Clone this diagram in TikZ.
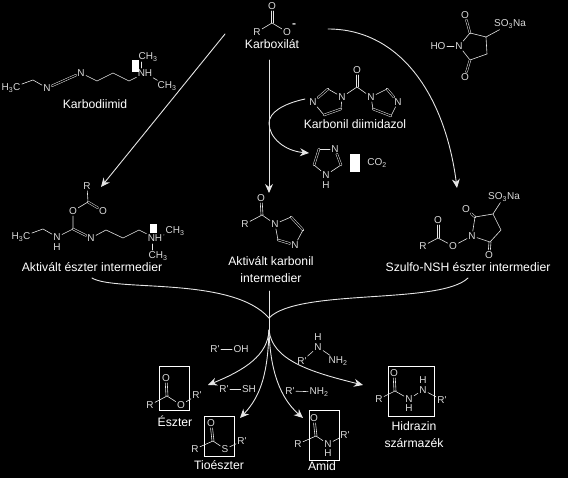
\documentclass[tikz,border=0pt]{standalone}
\usepackage{fontspec}
\setmainfont{Liberation Sans}
\usetikzlibrary{arrows.meta}
\newcommand{\Rp}{R\textquotesingle}
\tikzset{
  atom/.style={text=white!85!black,inner sep=1.2pt,font=\fontsize{10}{10}\selectfont},
  lbl/.style={text=white,inner sep=0pt,font=\fontsize{12.2}{12.2}\selectfont},
  bond/.style={draw=white!90!black,line width=0.6pt},
  dbl/.style={bond,double=black,double distance=1.3pt,line width=0.5pt},
  dblv/.style={draw=none,postaction={draw=white!90!black,line width=0.6pt,transform canvas={xshift=-1pt}},postaction={draw=white!90!black,line width=0.6pt,transform canvas={xshift=1pt}}},
  boxline/.style={draw=white,line width=0.8pt},
  flow/.style={draw=white!90!black,line width=0.9pt},
  react/.style={flow,->}
}
\begin{document}
\begin{tikzpicture}[x=1pt,y=-1pt,>={Stealth[length=9pt,width=8pt]},line cap=round]
\useasboundingbox (0,0) rectangle (568,478);
\fill[black] (0,0) rectangle (568,478);

\node[atom] (karbO) at (272,6) {O};
\coordinate (karbC) at (272,23);
\node[atom] (karbR) at (257,32) {R};
\node[atom] (karbOm) at (287,32) {O};
\node[atom,font=\fontsize{12}{12}\selectfont\bfseries] (karbMinus) at (294,26) {-};
\node[lbl] (karboxilat) at (272,44) {Karboxilát};
\draw[dblv] (karbO) -- (karbC);
\draw[bond] (karbR) -- (karbC) -- (karbOm);

\node[atom] (cdH) at (11,88) {H\textsubscript{3}C};
\coordinate (cdA) at (33,80);
\node[atom] (cdN) at (47,88) {N};
\node[atom] (cdNb) at (81,73) {N};
\coordinate (cdB) at (97,81);
\coordinate (cdC) at (113,73);
\coordinate (cdD) at (129,81);
\node[atom] (cdNH) at (145,73) {NH};
\node[atom] (cdMeA) at (148,57) {CH\textsubscript{3}};
\node[atom] (cdMeB) at (167,86) {CH\textsubscript{3}};
\draw[bond] (cdH) -- (cdA) -- (cdN);
\draw[dbl] (cdN) -- (cdNb);
\draw[bond] (cdNb) -- (cdB) -- (cdC) -- (cdD) -- (cdNH);
\draw[bond] (141,62) -- (141,68);
\draw[bond] (cdNH) -- (cdMeB);
\fill[white] (132,60) rectangle (139,72);
\node[lbl] (karbodiimid) at (95,104) {Karbodiimid};

\node[atom] (shsO) at (465,15) {O};
\coordinate (shsC) at (470,33);
\coordinate (shsS) at (486,37);
\node[atom] (shsSO) at (510,24) {SO\textsubscript{3}Na};
\coordinate (shsD) at (487,54);
\coordinate (shsE) at (470,60);
\node[atom] (shsOb) at (465,77) {O};
\node[atom] (shsN) at (459,46) {N};
\node[atom] (shsHO) at (438,46) {HO};
\draw[dbl] (shsO) -- (shsC);
\draw[bond] (shsN) -- (shsC) -- (shsS) -- (shsD) -- (shsE) -- (shsN);
\draw[bond] (shsS) -- (shsSO);
\draw[dbl] (shsE) -- (shsOb);
\draw[bond] (shsHO) -- (shsN);

\node[atom] (cdiO) at (357,70) {O};
\coordinate (cdiC) at (357,87);
\node[atom] (cdiNa) at (342,97) {N};
\node[atom] (cdiNb) at (371,97) {N};
\coordinate (cdiA) at (328,89);
\node[atom] (cdiNc) at (313,102) {N};
\coordinate (cdiB) at (324,115);
\coordinate (cdiD) at (341,109);
\coordinate (cdiE) at (387,89);
\node[atom] (cdiNd) at (398,102) {N};
\coordinate (cdiF) at (391,116);
\coordinate (cdiG) at (373,109);
\draw[dblv] (cdiO) -- (cdiC);
\draw[bond] (cdiNa) -- (cdiC) -- (cdiNb);
\draw[bond] (cdiNa) -- (cdiA);
\draw[dbl] (cdiA) -- (cdiNc);
\draw[bond] (cdiNc) -- (cdiB);
\draw[dbl] (cdiB) -- (cdiD);
\draw[bond] (cdiD) -- (cdiNa);
\draw[bond] (cdiNb) -- (cdiE);
\draw[dbl] (cdiE) -- (cdiNd);
\draw[bond] (cdiNd) -- (cdiF);
\draw[dbl] (cdiF) -- (cdiG);
\draw[bond] (cdiG) -- (cdiNb);
\node[lbl] (karbonil) at (355,124) {Karbonil diimidazol};

\node[atom] (imN) at (335,149) {N};
\coordinate (imA) at (319,149);
\coordinate (imB) at (314,165);
\node[atom] (imNH) at (326,175) {N};
\node[atom] (imH) at (326,185) {H};
\coordinate (imC) at (341,165);
\draw[bond] (imN) -- (imA);
\draw[dbl] (imA) -- (imB);
\draw[bond] (imB) -- (imNH) -- (imC);
\draw[dbl] (imC) -- (imN);
\fill[white] (350,154) rectangle (360,172);
\node[atom] (co) at (377,163) {CO\textsubscript{2}};

\node[atom] (aeR) at (87,186) {R};
\coordinate (aeC) at (88,202);
\node[atom] (aeOa) at (103,211) {O};
\node[atom] (aeOb) at (73,211) {O};
\coordinate (aeD) at (73,229);
\node[atom] (aeNH) at (57,237) {N};
\node[atom] (aeH) at (57,247) {H};
\coordinate (aeE) at (43,229);
\node[atom] (aeMe) at (21,237) {H\textsubscript{3}C};
\node[atom] (aeN) at (91,238) {N};
\coordinate (aeF) at (106,230);
\coordinate (aeG) at (123,238);
\coordinate (aeJ) at (139,230);
\node[atom] (aeNb) at (155,238) {NH};
\node[atom] (aeMeA) at (175,231) {CH\textsubscript{3}};
\node[atom] (aeMeB) at (158,256) {CH\textsubscript{3}};
\draw[bond] (aeR) -- (aeC);
\draw[dbl] (aeC) -- (aeOa);
\draw[bond] (aeC) -- (aeOb) -- (aeD) -- (aeNH) -- (aeE) -- (aeMe);
\draw[dbl] (aeD) -- (aeN);
\draw[bond] (aeN) -- (aeF) -- (aeG) -- (aeJ) -- (aeNb) -- (aeMeA);
\draw[bond] (152,244) -- (152,250);
\fill[white] (150,224) rectangle (157,233);
\node[lbl] (aktEszter) at (92,267) {Aktivált észter intermedier};

\node[atom] (akO) at (261,198) {O};
\coordinate (akC) at (262,215);
\node[atom] (akR) at (245,224) {R};
\node[atom] (akN) at (275,224) {N};
\coordinate (akA) at (291,217);
\coordinate (akB) at (303,230);
\node[atom] (akNb) at (295,245) {N};
\coordinate (akD) at (278,240);
\draw[dblv] (akO) -- (akC);
\draw[bond] (akR) -- (akC) -- (akN) -- (akA);
\draw[dbl] (akA) -- (akB);
\draw[bond] (akB) -- (akNb);
\draw[dbl] (akNb) -- (akD);
\draw[bond] (akD) -- (akN);
\node[lbl] (aktKarbonil) at (271,261) {Aktivált karbonil};
\node[lbl] (aktInter) at (271,278) {intermedier};

\node[atom] (snSO) at (504,197) {SO\textsubscript{3}Na};
\node[atom] (snOa) at (466,209) {O};
\coordinate (snC) at (475,217);
\coordinate (snS) at (493,214);
\coordinate (snD) at (501,230);
\coordinate (snE) at (490,242);
\node[atom] (snOb) at (489,255) {O};
\node[atom] (snN) at (472,236) {N};
\node[atom] (snO) at (453,246) {O};
\coordinate (snF) at (438,238);
\node[atom] (snOc) at (438,220) {O};
\node[atom] (snR) at (423,246) {R};
\draw[dbl] (snOa) -- (snC);
\draw[bond] (snN) -- (snC) -- (snS) -- (snD) -- (snE) -- (snN);
\draw[bond] (snS) -- (snSO);
\draw[dblv] (snE) -- (snOb);
\draw[bond] (snN) -- (snO) -- (snF) -- (snR);
\draw[dblv] (snF) -- (snOc);
\node[lbl] (szulfo) at (468,267) {Szulfo-NSH észter intermedier};

\coordinate (toAe) at (225,34);
\coordinate (aeTip) at (101,187);
\coordinate (toAk) at (269,60);
\coordinate (akTip) at (269,193);
\coordinate (cdiEnd) at (305,99);
\coordinate (imTip) at (309,153);
\coordinate (toSn) at (328,29);
\coordinate (snTip) at (457,188);
\draw[react] (toAe) -- (aeTip);
\draw[react] (toAk) -- (akTip);
\draw[react] (cdiEnd) .. controls (282,104) and (269,113) .. (269,123) .. controls (269,138) and (285,151) .. (imTip);
\draw[react] (toSn) .. controls (400,29) and (445,95) .. (snTip);

\coordinate (hubTop) at (269,291);
\coordinate (hub) at (269,318);
\coordinate (hubLow) at (269,330);
\coordinate (aeEnd) at (92,278);
\coordinate (snEnd) at (468,278);
\draw[flow] (aeEnd) .. controls (115,292) and (232,276) .. (hub);
\draw[flow] (snEnd) .. controls (440,305) and (298,288) .. (hub);
\draw[flow] (hubTop) -- (hubLow);

\coordinate (eszTip) at (208,385);
\coordinate (tioTip) at (240,418);
\coordinate (amiTip) at (303,418);
\coordinate (hidTip) at (363,385);
\draw[react] (hubLow) .. controls (268,355) and (245,370) .. (eszTip);
\draw[react] (hubLow) .. controls (268,370) and (262,395) .. (tioTip);
\draw[react] (hubLow) .. controls (270,370) and (280,398) .. (amiTip);
\draw[react] (hubLow) .. controls (272,360) and (310,372) .. (hidTip);

\node[atom] (roR) at (215,349) {\Rp};
\node[atom] (roOH) at (241,349) {OH};
\draw[bond] (roR) -- (roOH);
\node[atom] (rsR) at (224,389) {\Rp};
\node[atom] (rsSH) at (249,389) {SH};
\draw[bond] (rsR) -- (rsSH);
\node[atom] (rnR) at (290,391) {\Rp};
\node[atom] (rnNH) at (319,392) {NH\textsubscript{2}};
\draw[bond] (rnR) -- (rnNH);
\node[atom] (rhH) at (318,337) {H};
\node[atom] (rhN) at (318,347) {N};
\node[atom] (rhNH) at (338,361) {NH\textsubscript{2}};
\node[atom] (rhR) at (302,361) {\Rp};
\draw[bond] (rhR) -- (rhN) -- (rhNH);

\draw[boxline] (159,366) rectangle (189,410);
\node[atom] (eszO) at (166,378) {O};
\coordinate (eszC) at (167,396);
\node[atom] (eszR) at (150,405) {R};
\node[atom] (eszOb) at (181,405) {O};
\node[atom] (eszRp) at (197,395) {\Rp};
\draw[dblv] (eszO) -- (eszC);
\draw[bond] (eszR) -- (eszC) -- (eszOb) -- (eszRp);
\node[lbl] (eszter) at (175,421) {Észter};

\draw[boxline] (204,416) rectangle (234,456);
\node[atom] (tioO) at (211,423) {O};
\coordinate (tioC) at (213,441);
\node[atom] (tioR) at (195,449) {R};
\node[atom] (tioS) at (225,449) {S};
\node[atom] (tioRp) at (242,441) {\Rp};
\draw[dblv] (tioO) -- (tioC);
\draw[bond] (tioR) -- (tioC) -- (tioS) -- (tioRp);
\node[lbl] (tioeszter) at (219,465) {Tioészter};

\draw[boxline] (309,410) rectangle (339,460);
\node[atom] (amiO) at (314,418) {O};
\coordinate (amiC) at (316,436);
\node[atom] (amiR) at (298,444) {R};
\node[atom] (amiN) at (328,444) {N};
\node[atom] (amiH) at (328,453) {H};
\node[atom] (amiRp) at (345,435) {\Rp};
\draw[dblv] (amiO) -- (amiC);
\draw[bond] (amiR) -- (amiC) -- (amiN) -- (amiRp);
\node[lbl] (amid) at (322,466) {Amid};

\draw[boxline] (388,366) rectangle (434,416);
\node[atom] (hidO) at (394,373) {O};
\coordinate (hidC) at (395,391);
\node[atom] (hidR) at (379,399) {R};
\node[atom] (hidN) at (409,399) {N};
\node[atom] (hidH) at (409,408) {H};
\node[atom] (hidNb) at (423,390) {N};
\node[atom] (hidHb) at (423,380) {H};
\node[atom] (hidRp) at (442,400) {\Rp};
\draw[dblv] (hidO) -- (hidC);
\draw[bond] (hidR) -- (hidC) -- (hidN) -- (hidNb) -- (hidRp);
\node[lbl] (hidrazin) at (414,426) {Hidrazin};
\node[lbl] (szarmazek) at (414,443) {származék};
\end{tikzpicture}
\end{document}
